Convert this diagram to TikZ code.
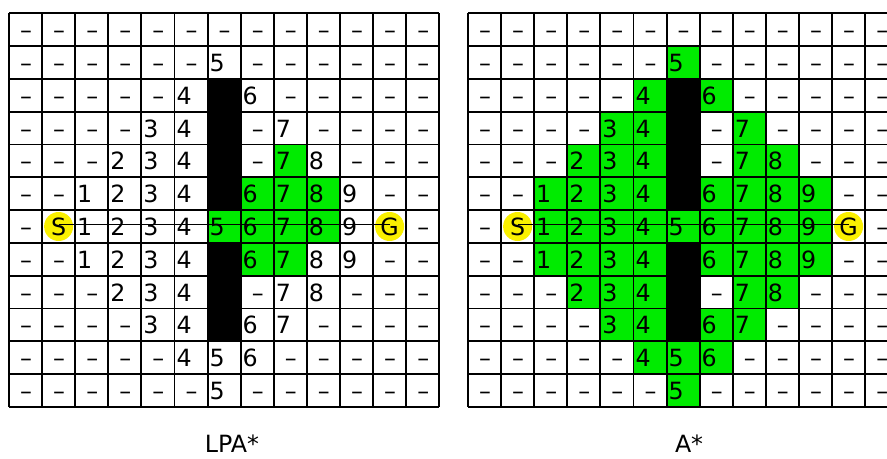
\documentclass[tikz,border=0pt]{standalone}
\usepackage{fontspec}
\setmainfont{DejaVu Sans}
\usepackage{xcolor}

\definecolor{cellgreen}{RGB}{0,235,0}
\definecolor{markyellow}{RGB}{250,240,0}

% g-values shared by both grids (B = wall, S = start, G = goal)
\def\cellrows{%
{-,-,-,-,-,-,-,-,-,-,-,-,-},%
{-,-,-,-,-,-,5,-,-,-,-,-,-},%
{-,-,-,-,-,4,B,6,-,-,-,-,-},%
{-,-,-,-,3,4,B,-,7,-,-,-,-},%
{-,-,-,2,3,4,B,-,7,8,-,-,-},%
{-,-,1,2,3,4,B,6,7,8,9,-,-},%
{-,S,1,2,3,4,5,6,7,8,9,G,-},%
{-,-,1,2,3,4,B,6,7,8,9,-,-},%
{-,-,-,2,3,4,B,-,7,8,-,-,-},%
{-,-,-,-,3,4,B,6,7,-,-,-,-},%
{-,-,-,-,-,4,5,6,-,-,-,-,-},%
{-,-,-,-,-,-,5,-,-,-,-,-,-}}

% #1 name prefix, #2 left edge, #3 expanded cells (col/row)
\newcommand\cellgrid[3]{%
  \foreach \gc/\gr in {#3}
    \fill[cellgreen] ({#2+\gc*33.1},{13.3+\gr*32.8}) rectangle ++(33.1,32.8);
  \foreach \row [count=\r from 0] in \cellrows {
    \foreach \v [count=\c from 0] in \row {
      \pgfmathsetmacro\cx{#2+\c*33.1}
      \pgfmathsetmacro\cy{13.3+\r*32.8}
      \if\v B
        \fill[black] (\cx,\cy) rectangle ++(33.1,32.8);
      \else\if\v -
        \node[celldash] (#1-\r-\c) at ({\cx+17},{\cy+25.5}) {\textendash};
      \else\if\v S
        \node[goalmark] (#1-\r-\c) at ({\cx+16.5},{\cy+16.4}) {S};
      \else\if\v G
        \node[goalmark] (#1-\r-\c) at ({\cx+16.5},{\cy+16.4}) {G};
      \else
        \node[cellnum] (#1-\r-\c) at ({\cx+2},{\cy+25.5}) {\v};
      \fi\fi\fi\fi
    }
  }
  \foreach \i in {0,...,13}
    \draw[gridline] ({#2+\i*33.1},13.3) -- ++(0,393.6);
  \foreach \j in {0,...,12}
    \draw[gridline] (#2,{13.3+\j*32.8}) -- ++(430.3,0);
}

\begin{document}
\begin{tikzpicture}[
  x=0.02cm,y=-0.02cm,
  every node/.style={font=\fontsize{13.5}{16}\selectfont,inner sep=0pt,outer sep=0pt},
  cellnum/.style={anchor=base west},
  celldash/.style={anchor=base},
  goalmark/.style={circle,fill=markyellow,minimum size=0.58cm},
  gridline/.style={line width=1.1pt},
  pathline/.style={line width=0.6pt}
]
\clip (0,0) rectangle (887,459);
\fill[white] (0,0) rectangle (887,459);

% LPA*: only the cells on the corridor get expanded
\cellgrid{L}{9}{8/4,7/5,8/5,9/5,6/6,7/6,8/6,9/6,7/7,8/7}
\draw[pathline] ([yshift=1.2pt]L-6-1.center) -- ([yshift=1.2pt]L-6-11.center);
\node[anchor=base east] (lpalabel) at (259,453) {LPA*};

% A*: the whole diamond gets expanded
\cellgrid{R}{468}{6/1,5/2,7/2,4/3,5/3,8/3,3/4,4/4,5/4,8/4,9/4,
  2/5,3/5,4/5,5/5,7/5,8/5,9/5,10/5,2/6,3/6,4/6,5/6,6/6,7/6,8/6,9/6,10/6,
  2/7,3/7,4/7,5/7,7/7,8/7,9/7,10/7,3/8,4/8,5/8,8/8,9/8,
  4/9,5/9,7/9,8/9,5/10,6/10,7/10,6/11}
\draw[pathline] ([yshift=1.2pt]R-6-1.center) -- ([yshift=1.2pt]R-6-11.center);
\node[anchor=base west] (alabel) at (675,453) {A*};
\end{tikzpicture}
\end{document}
